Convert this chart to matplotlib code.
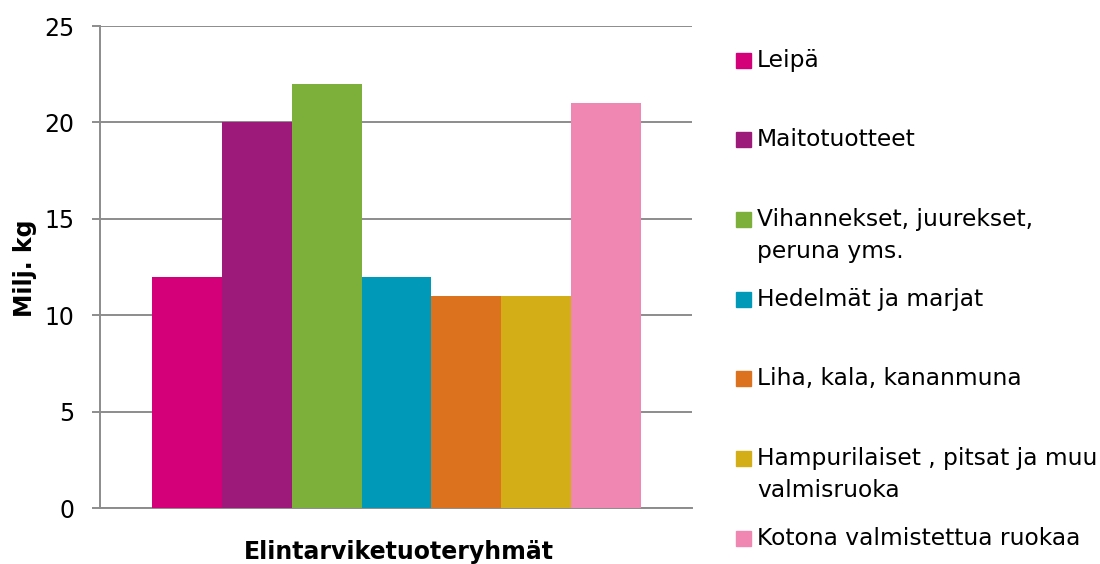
import matplotlib
matplotlib.use("Agg")
import matplotlib.pyplot as plt
from matplotlib.patches import Rectangle
import numpy as np

categories = ["Leipä", "Maitotuotteet", "Vihannekset, juurekset,\nperuna yms.",
              "Hedelmät ja marjat", "Liha, kala, kananmuna",
              "Hampurilaiset , pitsat ja muu\nvalmisruoka", "Kotona valmistettua ruokaa"]
values = [12, 20, 22, 12, 11, 11, 21]
colors = ["#D4007A", "#9E1A7A", "#7DB03B", "#0099B8", "#DC721E", "#D4AE16", "#F086B2"]
yticks = [0, 5, 10, 15, 20, 25]

W, H = 1100, 564
fig = plt.figure(figsize=(W / 100, H / 100), dpi=100)
ax = fig.add_axes([100 / W, (H - 508) / H, 592 / W, (508 - 26) / H])

x = np.arange(len(values))
ax.bar(x, values, width=1.0, color=colors, zorder=3)
ax.set_xlim(-1.244, 7.23)
ax.set_ylim(0, 25)
ax.set_yticks(yticks)
ax.set_xticks([])
grid_c = "#8C8C8C"
ax.yaxis.grid(True, color=grid_c, linewidth=1.4, zorder=0)
for s in ["top", "right"]:
    ax.spines[s].set_visible(False)
for s in ["left", "bottom"]:
    ax.spines[s].set_color(grid_c)
    ax.spines[s].set_linewidth(1.4)
ax.tick_params(axis="y", length=5.8, width=1.4, color=grid_c, labelsize=17, pad=12.5)
ax.set_ylabel("Milj. kg", fontsize=17, fontweight="bold")
ax.yaxis.set_label_coords(-0.1064, 0.498)
ax.set_xlabel("Elintarviketuoteryhmät", fontsize=17, fontweight="bold")
ax.xaxis.set_label_coords(0.505, -0.066)

# legend drawn manually (square aligned with first line of each entry)
sq = 15
y0 = 60
dy = 79.7
line_gap = 32
for i, (lab, c) in enumerate(zip(categories, colors)):
    yc = y0 + i * dy
    fig.patches.append(Rectangle(((736) / W, (H - yc - sq / 2) / H), sq / W, sq / H,
                                 transform=fig.transFigure, color=c, figure=fig))
    for k, line in enumerate(lab.split("\n")):
        fig.text(757 / W, (H - yc - k * line_gap) / H, line, fontsize=16.8,
                 va="center", ha="left")

fig.savefig("out.png", dpi=100)
